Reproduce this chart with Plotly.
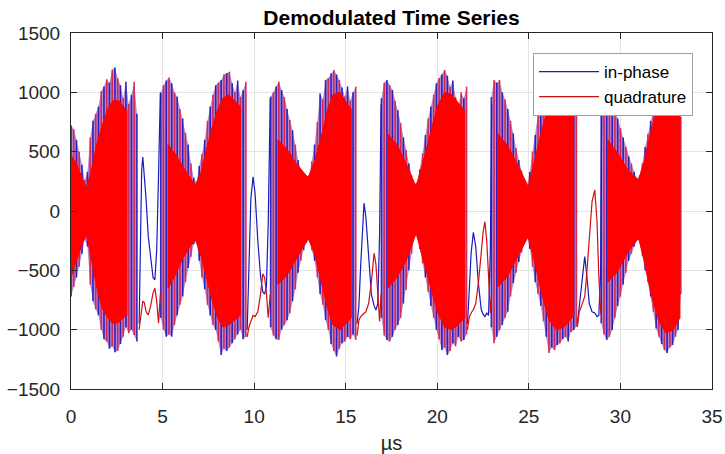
import plotly.graph_objects as go

# ---------------- data (time in µs, amplitude) ----------------
# Dense oscillating bursts: extent of the oscillation (tip high / tip low) sampled every 0.15 µs
burst_start_us = [0.0, 4.9, 10.9, 16.95, 22.95, 28.95]
sample_step_us = 0.15

b1_hi = [720, 690, 600, 500, 390, 260, 330, 620, 760, 820, 880, 1010, 1050, 1110, 1080, 1190, 1210, 1120, 1060, 950, 1090, 900, 980, 1090, 820]
b1_lo = [-720, -640, -560, -470, -360, -240, -300, -620, -760, -830, -880, -1000, -1080, -1100, -1160, -1140, -1190, -1180, -1120, -1060, -980, -1030, -1000, -1045, -1100]
b2_hi = [990, 1060, 1100, 1126, 1076, 1000, 963, 860, 780, 660, 560, 400, 280, 240, 380, 480, 600, 760, 880, 980, 1060, 1080, 1104, 1150, 1160, 1174, 1076, 1000, 1100, 960, 1020, 1090]
b2_lo = [-900, -1000, -1060, -1040, -1059, -960, -880, -790, -720, -600, -480, -385, -280, -250, -420, -560, -660, -790, -880, -960, -1003, -1100, -1213, -1160, -1180, -1150, -1115, -1080, -1040, -1000, -1080, -1059]
b3_hi = [963, 1000, 1050, 1090, 1020, 960, 860, 767, 680, 560, 430, 350, 310, 290, 300, 420, 560, 750, 990, 940, 1104, 1120, 1160, 1188, 1150, 1104, 1040, 963, 1050, 930, 1000, 1048]
b3_lo = [-980, -1050, -1080, -1087, -1000, -960, -920, -862, -760, -660, -520, -420, -330, -270, -244, -330, -420, -560, -700, -790, -920, -1003, -1120, -1180, -1227, -1160, -1115, -1100, -1060, -1080, -1040, -1087]
b4_hi = [950, 1080, 1104, 1060, 1020, 930, 850, 740, 620, 514, 400, 300, 230, 240, 350, 486, 640, 780, 880, 980, 1076, 1120, 1150, 1188, 1140, 1048, 1100, 960, 880, 1000, 950, 1048]
b4_lo = [-900, -1050, -1087, -1100, -1060, -1000, -960, -900, -780, -666, -500, -360, -220, -200, -320, -441, -560, -680, -800, -900, -1003, -1080, -1171, -1150, -1213, -1180, -1115, -1140, -1060, -1100, -1087, -1040]
b5_hi = [960, 1104, 1080, 1104, 1000, 940, 860, 760, 654, 530, 430, 340, 270, 220, 330, 500, 640, 820, 940, 1040, 1100, 1120, 1150, 1100, 1140, 1080, 1000, 1060, 950, 1000, 900, 1076]
b5_lo = [-980, -1115, -1060, -1003, -960, -900, -850, -720, -607, -520, -430, -350, -280, -216, -320, -470, -600, -700, -800, -930, -1060, -1196, -1150, -1171, -1130, -1115, -1080, -1060, -1100, -1020, -1003, -975]
b6_hi = [900, 1050, 1100, 1000, 950, 860, 780, 700, 620, 540, 460, 400, 330, 270, 300, 400, 540, 650, 760, 851, 960, 1000, 1080, 1150, 1120, 1100, 1050, 1080, 900, 795]
b6_lo = [-946, -1040, -1087, -1060, -1003, -900, -800, -722, -620, -520, -420, -360, -300, -240, -250, -380, -500, -600, -720, -850, -990, -1060, -1120, -1171, -1196, -1150, -1130, -1060, -1000, -700]

# Solid (densest) quadrature core of each burst
core_burst = [1]*12 + [2]*13 + [3]*11 + [4]*11 + [5]*11 + [6]*10
core_t = [0.0, 0.3, 0.6, 0.85, 1.1, 1.4, 1.7, 2.0, 2.3, 2.6, 2.85, 3.05,
          5.3, 5.7, 6.1, 6.5, 6.8, 7.1, 7.4, 7.7, 8.0, 8.3, 8.6, 8.9, 9.25,
          11.3, 11.8, 12.3, 12.95, 13.3, 13.7, 14.0, 14.3, 14.7, 15.0, 15.3,
          17.3, 17.8, 18.3, 18.84, 19.2, 19.6, 20.0, 20.4, 20.8, 21.2, 21.5,
          23.3, 23.8, 24.4, 24.96, 25.3, 25.7, 26.1, 26.5, 26.9, 27.2, 27.45,
          29.3, 29.8, 30.4, 30.99, 31.3, 31.7, 32.1, 32.5, 32.9, 33.25]
core_hi = [470, 400, 280, 200, 330, 560, 720, 860, 930, 930, 880, 850,
           560, 480, 380, 280, 219, 330, 520, 700, 850, 950, 980, 930, 880,
           600, 520, 400, 280, 420, 650, 850, 980, 1000, 920, 860,
           650, 560, 400, 205, 400, 650, 880, 1000, 980, 900, 850,
           650, 560, 390, 205, 420, 680, 900, 1000, 1000, 920, 880,
           600, 500, 350, 261, 420, 700, 900, 1000, 1000, 900]
core_lo = [-560, -420, -280, -200, -400, -640, -820, -900, -950, -940, -900, -880,
           -650, -540, -400, -300, -244, -380, -560, -750, -900, -980, -960, -920, -880,
           -620, -540, -400, -230, -360, -620, -820, -960, -1000, -950, -900,
           -650, -560, -420, -187, -380, -620, -850, -980, -1000, -950, -900,
           -640, -560, -380, -216, -420, -700, -920, -1000, -980, -930, -880,
           -600, -520, -350, -229, -420, -720, -930, -1030, -1000, -900]

# Slow parts between bursts
gap_id = [1]*13 + [2]*12 + [3]*13 + [4]*13 + [5]*12
gap_t = [3.72, 3.8, 3.86, 3.92, 4.0, 4.1, 4.22, 4.35, 4.48, 4.58, 4.68, 4.78, 4.88,
         9.62, 9.72, 9.82, 9.94, 10.05, 10.2, 10.35, 10.47, 10.57, 10.67, 10.77, 10.88,
         15.62, 15.72, 15.82, 15.92, 16.0, 16.1, 16.25, 16.4, 16.55, 16.65, 16.75, 16.85, 16.93,
         21.65, 21.75, 21.85, 21.97, 22.1, 22.25, 22.4, 22.5, 22.6, 22.7, 22.8, 22.9, 22.97,
         27.65, 27.75, 27.9, 28.05, 28.15, 28.3, 28.45, 28.6, 28.72, 28.82, 28.92, 28.98]
inphase_gap = [-950, -200, 350, 455, 320, 100, -216, -420, -560, -580, -330, 300, 1000,
               -1000, -450, 100, 289, 150, -250, -550, -680, -700, -640, -100, 950,
               -950, -800, -450, -100, 67, -50, -400, -700, -800, -834, -780, -200, 900,
               -950, -700, -350, -180, -300, -620, -830, -870, -890, -860, -880, -300, 900,
               -950, -800, -600, -385, -520, -780, -850, -860, -890, -880, -500, 900]
quad_gap = [-1000, -900, -800, -760, -770, -850, -876, -800, -690, -650, -760, -945, -700,
            -1060, -975, -930, -880, -890, -850, -700, -530, -560, -690, -900, -700,
            -1050, -918, -890, -870, -862, -850, -780, -600, -354, -450, -650, -930, -700,
            -1000, -890, -860, -830, -780, -600, -350, -180, -90, -250, -550, -860, -700,
            -975, -850, -790, -720, -550, -200, 80, 177, -80, -550, -850, -900]

x_ticks = [0, 5, 10, 15, 20, 25, 30, 35]
y_ticks = [-1500, -1000, -500, 0, 500, 1000, 1500]

# ---------------- build traces ----------------
BLUE = "#1a1ac0"
RED = "#ff0000"
DARKRED = "#d01010"
FONT = "Liberation Sans, Arial, sans-serif"

bursts_hi = [b1_hi, b2_hi, b3_hi, b4_hi, b5_hi, b6_hi]
bursts_lo = [b1_lo, b2_lo, b3_lo, b4_lo, b5_lo, b6_lo]

bx, by, rx, ry = [], [], [], []
ox, oy = [], []
for start, his, los in zip(burst_start_us, bursts_hi, bursts_lo):
    ts = [start + i * sample_step_us for i in range(len(his))]
    ox += ts + ts[::-1] + [ts[0], None]
    oy += list(his) + list(los)[::-1] + [his[0], None]
    for i, (t, h, l) in enumerate(zip(ts, his, los)):
        if i % 2 == 0:
            bx += [t, t, None]; by += [l, h, None]
        else:
            rx += [t, t, None]; ry += [l, h, None]

cx, cy = [], []
for b in sorted(set(core_burst)):
    idx = [k for k, v in enumerate(core_burst) if v == b]
    ts = [core_t[k] for k in idx]
    hs = [core_hi[k] for k in idx]
    ls = [core_lo[k] for k in idx]
    cx += ts + ts[::-1] + [ts[0], None]
    cy += hs + ls[::-1] + [hs[0], None]

gx, gi, gq = [], [], []
for g in sorted(set(gap_id)):
    idx = [k for k, v in enumerate(gap_id) if v == g]
    gx += [gap_t[k] for k in idx] + [None]
    gi += [inphase_gap[k] for k in idx] + [None]
    gq += [quad_gap[k] for k in idx] + [None]

fig = go.Figure()
# blended (purple) extent of the dense oscillation
fig.add_trace(go.Scatter(x=ox, y=oy, mode="lines", fill="toself",
                         fillcolor="rgba(120,45,165,0.55)", line=dict(width=0),
                         showlegend=False, hoverinfo="skip"))
fig.add_trace(go.Scatter(x=bx, y=by, mode="lines", line=dict(color="rgba(30,20,190,0.9)", width=1.6),
                         showlegend=False, hoverinfo="skip"))
fig.add_trace(go.Scatter(x=rx, y=ry, mode="lines", line=dict(color="rgba(220,20,60,0.85)", width=1.6),
                         showlegend=False, hoverinfo="skip"))
fig.add_trace(go.Scatter(x=cx, y=cy, mode="lines", fill="toself", fillcolor=RED,
                         line=dict(color=RED, width=1), showlegend=False, hoverinfo="skip"))
fig.add_trace(go.Scatter(x=gx, y=gi, mode="lines", name="in-phase",
                         line=dict(color=BLUE, width=1.2)))
fig.add_trace(go.Scatter(x=gx, y=gq, mode="lines", name="quadrature",
                         line=dict(color=DARKRED, width=1.2)))

axis_common = dict(showgrid=True, gridcolor="#e3e3e3", gridwidth=1,
                   showline=True, linecolor="#262626", linewidth=1, mirror="ticks",
                   ticks="inside", ticklen=6, tickcolor="#262626",
                   tickfont=dict(size=19, color="#262626", family=FONT),
                   zeroline=False, automargin=False)

fig.update_layout(
    width=725, height=454,
    margin=dict(l=71, r=13, t=33, b=65),
    paper_bgcolor="white", plot_bgcolor="white",
    font=dict(family=FONT, color="#262626"),
    title=dict(text="<b>Demodulated Time Series</b>", x=0.5, xref="paper",
               y=1 - 18 / 454, yref="container", yanchor="middle",
               font=dict(size=21, color="#000000", family=FONT)),
    xaxis=dict(range=[0, 35], tickvals=x_ticks, ticklabelstandoff=10,
               title=dict(text="µs", font=dict(size=20, color="#262626", family=FONT), standoff=12),
               **axis_common),
    yaxis=dict(range=[-1500, 1500], tickvals=y_ticks, ticklabelstandoff=6,
               **axis_common),
    legend=dict(x=(533 - 71) / 641, y=(389 - 53) / 356, xanchor="left", yanchor="top",
                bgcolor="white", bordercolor="#a0a0a0", borderwidth=1,
                font=dict(size=17, color="#000000", family=FONT), itemwidth=60,
                tracegroupgap=0),
)

fig.write_html("out.html")
